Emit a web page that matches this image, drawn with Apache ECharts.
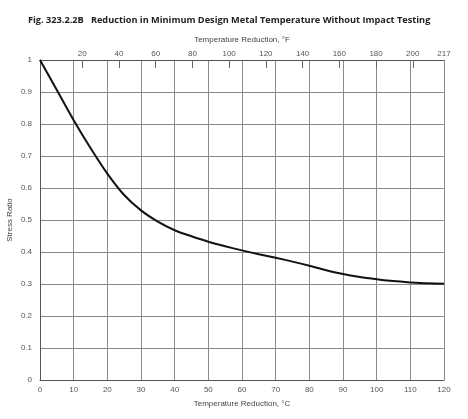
<!DOCTYPE html>
<html>
<head>
<meta charset="utf-8">
<script src="https://cdn.jsdelivr.net/npm/echarts@6/dist/echarts.min.js"></script>
<style>
  html, body { margin: 0; padding: 0; background: #fff; }
  #mainChart { width: 468px; height: 419px; }
</style>
</head>
<body>
<div id="mainChart"></div>
<script>
// 温度降低 (°C) 与应力比
var tempC = [0, 5, 10, 15, 20, 25, 30, 35, 40, 45, 50, 55, 60, 65, 70, 75, 80, 85, 90, 95, 100, 105, 110, 115, 120];
var stressRatio = [1.0, 0.906, 0.812, 0.725, 0.645, 0.578, 0.53, 0.495, 0.468, 0.449, 0.432, 0.418, 0.405, 0.393, 0.382, 0.37, 0.357, 0.343, 0.331, 0.322, 0.315, 0.309, 0.305, 0.302, 0.301];
var tickF = [20, 40, 60, 80, 100, 120, 140, 160, 180, 200, 217];

var fontFam = 'Liberation Sans, Arial, sans-serif';
var labelColor = '#555';
var gridColor = '#8a8a8a';

var curve = [];
for (var i = 0; i < tempC.length; i++) {
    curve.push([tempC[i], stressRatio[i]]);
}

var myChart = echarts.init(document.getElementById('mainChart'), null, { renderer: 'canvas' });

var option = {
    backgroundColor: '#fff',
    animation: false,
    title: {
        text: 'Fig. 323.2.2B   Reduction in Minimum Design Metal Temperature Without Impact Testing',
        left: 23,
        top: 11,
        textStyle: {
            fontFamily: 'Open Sans, sans-serif',
            fontSize: 9.2,
            fontWeight: 'bold',
            color: '#222'
        }
    },
    grid: {
        left: 40,
        right: 24,
        top: 60,
        bottom: 39,
        outerBoundsMode: 'none',
        containLabel: false
    },
    xAxis: [{
        type: 'value',
        position: 'bottom',
        min: 0,
        max: 120,
        interval: 10,
        name: 'Temperature Reduction, °C',
        nameLocation: 'middle',
        nameGap: 20,
        nameMoveOverlap: false,
        nameTextStyle: { fontFamily: fontFam, fontSize: 8, color: '#444' },
        axisLine: { show: true, lineStyle: { color: '#555', width: 1 } },
        axisTick: { show: false },
        axisLabel: { fontFamily: fontFam, fontSize: 8, color: labelColor, margin: 6 },
        splitLine: { show: true, lineStyle: { color: gridColor, width: 1 } }
    }, {
        type: 'value',
        position: 'top',
        min: -3,
        max: 217,
        name: 'Temperature Reduction, °F',
        nameLocation: 'middle',
        nameGap: 16,
        nameMoveOverlap: false,
        nameTextStyle: { fontFamily: fontFam, fontSize: 8, color: '#444' },
        axisLine: { show: true, lineStyle: { color: '#555', width: 1 } },
        axisTick: {
            show: true,
            inside: true,
            length: 8,
            customValues: tickF.slice(0, 10),
            lineStyle: { color: '#666' }
        },
        axisLabel: {
            fontFamily: fontFam,
            fontSize: 8,
            color: labelColor,
            margin: 2,
            customValues: tickF
        },
        splitLine: { show: false }
    }],
    yAxis: {
        type: 'value',
        min: 0,
        max: 1,
        interval: 0.1,
        name: 'Stress Ratio',
        nameLocation: 'middle',
        nameGap: 26,
        nameMoveOverlap: false,
        nameTextStyle: { fontFamily: fontFam, fontSize: 8, color: '#444' },
        axisLine: { show: true, lineStyle: { color: '#555', width: 1 } },
        axisTick: { show: false },
        axisLabel: {
            fontFamily: fontFam,
            fontSize: 8,
            color: labelColor,
            margin: 8,
            formatter: function (v) { return +v.toFixed(1) + ''; }
        },
        splitLine: { show: true, lineStyle: { color: gridColor, width: 1 } }
    },
    series: [{
        name: 'Stress Ratio',
        type: 'line',
        xAxisIndex: 0,
        data: curve,
        smooth: 0.3,
        showSymbol: false,
        lineStyle: { color: '#111', width: 2 }
    }]
};

myChart.setOption(option);
</script>
</body>
</html>
